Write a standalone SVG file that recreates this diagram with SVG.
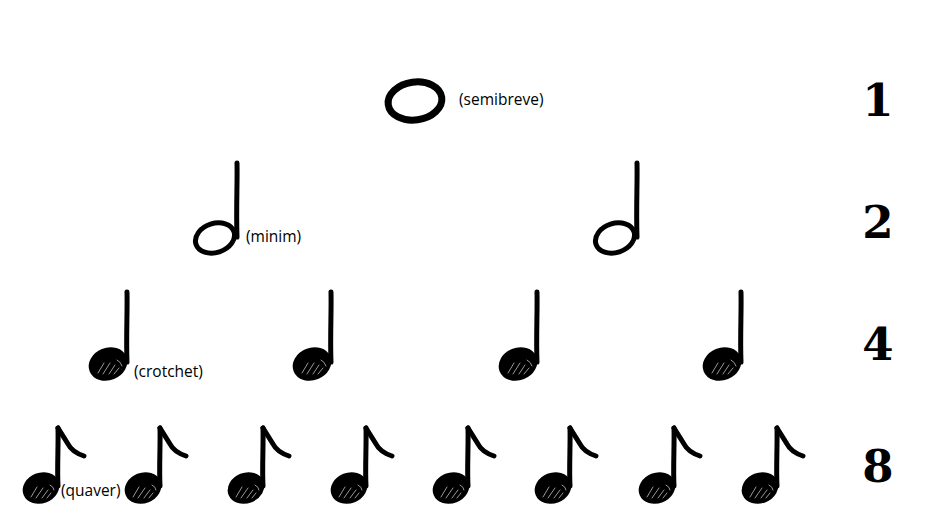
<svg xmlns="http://www.w3.org/2000/svg" xmlns:xlink="http://www.w3.org/1999/xlink" width="940" height="529" viewBox="0 0 940 529">
<style>
.ink{fill:none;stroke:#000;stroke-width:5;stroke-linecap:round;stroke-linejoin:round}
.fillhead{fill:#000;stroke:#000;stroke-width:3.5}
.hatch{stroke:#fff;stroke-width:1;stroke-linecap:round;opacity:0.6}
.lbl{font-family:"Open Sans","DejaVu Sans",sans-serif;font-size:15.5px;fill:#000}
.num{font-family:"DejaVu Serif","Liberation Serif",serif;font-weight:bold;font-size:45px;fill:#000;text-anchor:middle}
</style>
<defs>
<g id="minim">
<path class="ink" d="M0,0 C0.5,20 -1,45 0,74"/>
<ellipse class="ink" cx="-22" cy="75" rx="20" ry="14.5" stroke-width="5.5" transform="rotate(-18 -22 75)"/>
</g>
<g id="crotchet">
<path class="ink" d="M0,0 C0.5,20 -1,45 0,70"/>
<ellipse class="fillhead" cx="-19" cy="72" rx="18" ry="14.5" transform="rotate(-22 -19 72)"/>
<path class="hatch" d="M-29,81 L-23,71 M-24,82 L-17,71 M-18,82 L-12,73 M-13,82 L-8,76 M-10,68 Q-6,70 -5,74"/>
</g>
<g id="quaver">
<path class="ink" d="M0,0 C0.5,18 -1,40 0,58"/>
<path class="ink" d="M0,0 L10,16 Q14,24 26,28"/>
<ellipse class="fillhead" cx="-17" cy="60" rx="17" ry="13.5" transform="rotate(-22 -17 60)"/>
<path class="hatch" d="M-27,69 L-21,59 M-22,70 L-15,60 M-16,70 L-10,62 M-11,70 L-7,65 M-8,57 Q-4,59 -4,62"/>
</g>
</defs>

<g id="semibreve">
<ellipse cx="415" cy="101" rx="27" ry="19" transform="rotate(-8 415 101)" fill="none" stroke="#000" stroke-width="7"/>
<text class="lbl" x="459" y="105">(semibreve)</text>
</g>

<g id="minim-1"><use xlink:href="#minim" x="237" y="163"/><text class="lbl" x="246" y="242">(minim)</text></g>
<g id="minim-2"><use xlink:href="#minim" x="637" y="163"/></g>

<g id="crotchet-1"><use xlink:href="#crotchet" x="127" y="292"/><text class="lbl" x="134" y="377">(crotchet)</text></g>
<g id="crotchet-2"><use xlink:href="#crotchet" x="331" y="292"/></g>
<g id="crotchet-3"><use xlink:href="#crotchet" x="537" y="292"/></g>
<g id="crotchet-4"><use xlink:href="#crotchet" x="741" y="292"/></g>

<g id="quaver-1"><use xlink:href="#quaver" x="58" y="428"/><text class="lbl" x="61" y="496">(quaver)</text></g>
<g id="quaver-2"><use xlink:href="#quaver" x="160" y="428"/></g>
<g id="quaver-3"><use xlink:href="#quaver" x="263" y="428"/></g>
<g id="quaver-4"><use xlink:href="#quaver" x="366" y="428"/></g>
<g id="quaver-5"><use xlink:href="#quaver" x="468" y="428"/></g>
<g id="quaver-6"><use xlink:href="#quaver" x="570" y="428"/></g>
<g id="quaver-7"><use xlink:href="#quaver" x="674" y="428"/></g>
<g id="quaver-8"><use xlink:href="#quaver" x="777" y="428"/></g>

<g id="counts">
<text class="num" x="878" y="116">1</text>
<text class="num" x="878" y="238">2</text>
<text class="num" x="878" y="360">4</text>
<text class="num" x="878" y="482">8</text>
</g>
</svg>
